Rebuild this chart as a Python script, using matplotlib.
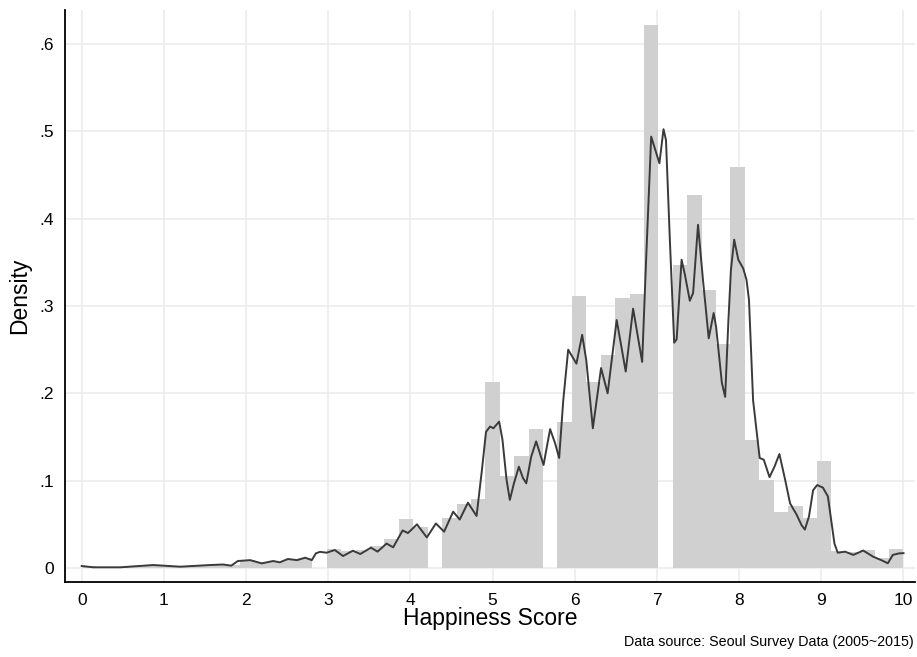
import numpy as np
import matplotlib
matplotlib.use("Agg")
import matplotlib.pyplot as plt

plt.rcParams['font.family'] = ['Liberation Sans', 'DejaVu Sans']

# histogram: 57 equal bins over 0..10, heights
bin_lo = 0.0
bin_hi = 10.0
bin_heights = [0.002, 0.001, 0.001, 0.001, 0.002, 0.003, 0.002, 0.002, 0.002, 0.003,
               0.004, 0.009, 0.007, 0.007, 0.009, 0.011, 0.0, 0.022, 0.019, 0.021,
               0.025, 0.033, 0.056, 0.047, 0.0, 0.057, 0.073, 0.079, 0.213, 0.105,
               0.128, 0.159, 0.0, 0.167, 0.311, 0.213, 0.244, 0.309, 0.314, 0.622,
               0.0, 0.347, 0.427, 0.318, 0.257, 0.459, 0.147, 0.101, 0.064, 0.071,
               0.057, 0.122, 0.020, 0.018, 0.021, 0.012, 0.022]

# kernel density line
kde_x = [0.00, 0.14, 0.47, 0.87, 1.20, 1.56, 1.72, 1.82, 1.90, 2.05,
         2.19, 2.33, 2.41, 2.51, 2.62, 2.72, 2.80, 2.85, 2.90, 2.98,
         3.08, 3.18, 3.30, 3.39, 3.52, 3.60, 3.71, 3.79, 3.905, 3.97,
         4.08, 4.20, 4.31, 4.41, 4.52, 4.60, 4.70, 4.805, 4.87, 4.92,
         4.97, 5.01, 5.08, 5.12, 5.17, 5.21, 5.26, 5.32, 5.37, 5.41,
         5.47, 5.53, 5.62, 5.70, 5.76, 5.81, 5.86, 5.92, 6.02, 6.09,
         6.14, 6.22, 6.32, 6.40, 6.51, 6.62, 6.71, 6.82, 6.87, 6.93,
         7.03, 7.08, 7.11, 7.157, 7.21, 7.24, 7.30, 7.34, 7.40, 7.44,
         7.50, 7.56, 7.63, 7.69, 7.72, 7.79, 7.83, 7.87, 7.90, 7.94,
         7.99, 8.05, 8.09, 8.12, 8.15, 8.17, 8.25, 8.30, 8.37, 8.43,
         8.49, 8.56, 8.62, 8.70, 8.76, 8.80, 8.85, 8.90, 8.95, 9.02,
         9.08, 9.12, 9.16, 9.20, 9.29, 9.39, 9.51, 9.63, 9.73, 9.81,
         9.87, 9.95, 10.0]
kde_y = [0.0023, 0.0008, 0.0008, 0.0034, 0.0015, 0.0034, 0.004, 0.0027, 0.008, 0.009,
         0.0053, 0.008, 0.0065, 0.0103, 0.009, 0.0118, 0.009, 0.0168, 0.0185, 0.0175,
         0.0206, 0.0137, 0.0198, 0.016, 0.0233, 0.0187, 0.028, 0.0237, 0.043, 0.040,
         0.050, 0.035, 0.051, 0.0416, 0.0645, 0.0555, 0.0748, 0.0596, 0.112, 0.156,
         0.162, 0.160, 0.1676, 0.147, 0.101, 0.078, 0.097, 0.116, 0.103, 0.097,
         0.1275, 0.145, 0.118, 0.159, 0.143, 0.126, 0.192, 0.25, 0.234, 0.267,
         0.238, 0.16, 0.229, 0.200, 0.284, 0.225, 0.297, 0.236, 0.357, 0.494,
         0.4635, 0.5025, 0.49, 0.376, 0.258, 0.262, 0.353, 0.336, 0.306, 0.315,
         0.393, 0.33, 0.263, 0.292, 0.276, 0.212, 0.196, 0.284, 0.341, 0.376,
         0.353, 0.343, 0.33, 0.307, 0.238, 0.192, 0.126, 0.124, 0.104, 0.116,
         0.1305, 0.101, 0.074, 0.061, 0.049, 0.044, 0.059, 0.089, 0.095, 0.092,
         0.082, 0.055, 0.028, 0.0175, 0.0187, 0.015, 0.020, 0.013, 0.009, 0.0054,
         0.015, 0.0168, 0.017]

xticks = [0, 1, 2, 3, 4, 5, 6, 7, 8, 9, 10]
yticks = [0, 0.1, 0.2, 0.3, 0.4, 0.5, 0.6]
ytick_labels = ['0', '.1', '.2', '.3', '.4', '.5', '.6']

fig = plt.figure(figsize=(9.17, 6.57), dpi=100)
ax = fig.add_axes([0.0709, 0.1142, 0.9269, 0.8706])

edges = np.linspace(bin_lo, bin_hi, len(bin_heights) + 1)
ax.bar(edges[:-1], bin_heights, width=np.diff(edges), align='edge',
       color='#d0d0d0', edgecolor='none', linewidth=0, zorder=2)
ax.plot(kde_x, kde_y, color='#3a3a3a', linewidth=1.4, zorder=3,
        solid_joinstyle='round')

ax.set_xlim(-0.203, 10.14)
ax.set_ylim(-0.016, 0.639)
ax.set_xticks(xticks)
ax.set_xticklabels([str(t) for t in xticks])
ax.set_yticks(yticks)
ax.set_yticklabels(ytick_labels)
ax.tick_params(axis='both', length=0, labelsize=12.5, colors='black')
ax.tick_params(axis='x', pad=8)
ax.tick_params(axis='y', pad=8)

ax.grid(True, color='#ebebeb', linewidth=1.1, zorder=0)
ax.set_axisbelow(True)
for side in ['top', 'right']:
    ax.spines[side].set_visible(False)
for side in ['left', 'bottom']:
    ax.spines[side].set_color('black')
    ax.spines[side].set_linewidth(1.3)

ax.set_xlabel('Happiness Score', fontsize=16.5, labelpad=-1)
ax.set_ylabel('Density', fontsize=16.5, labelpad=6)

fig.text(0.997, 0.0228, 'Data source: Seoul Survey Data (2005~2015)',
         ha='right', va='center', fontsize=10.3)

fig.savefig('out.png', dpi=100)
